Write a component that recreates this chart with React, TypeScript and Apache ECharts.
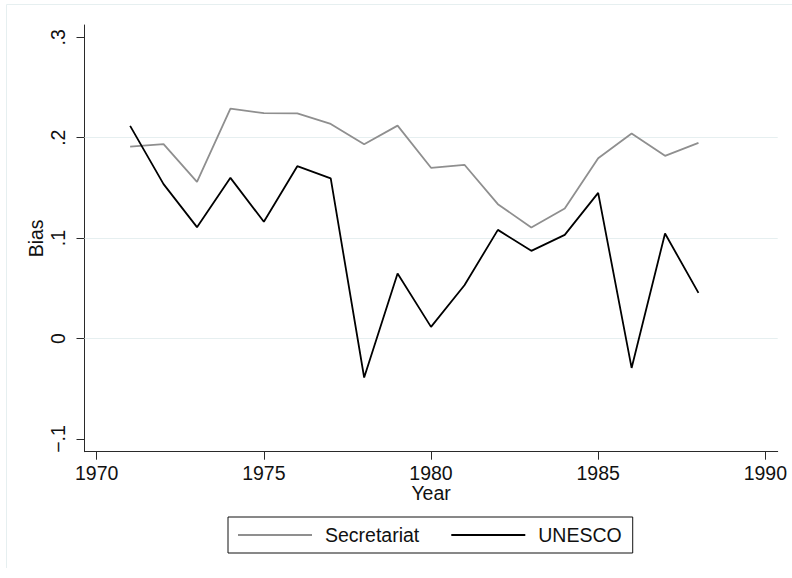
import React, { useEffect, useRef } from "react";
import * as echarts from "echarts";

const years = [1971, 1972, 1973, 1974, 1975, 1976, 1977, 1978, 1979, 1980, 1981, 1982, 1983, 1984, 1985, 1986, 1987, 1988];
const secretariat = [0.191, 0.1935, 0.156, 0.229, 0.2244, 0.2241, 0.2137, 0.1935, 0.212, 0.170, 0.173, 0.1338, 0.1105, 0.1295, 0.1796, 0.2042, 0.1819, 0.1948];
const unesco = [0.2118, 0.1537, 0.1109, 0.160, 0.1162, 0.1716, 0.1594, -0.0388, 0.0647, 0.0116, 0.053, 0.1082, 0.0873, 0.1032, 0.145, -0.0293, 0.1046, 0.0454];
const xTicks = [1970, 1975, 1980, 1985, 1990];
const yTicks = [-0.1, 0, 0.1, 0.2, 0.3];
const yGrid = [0, 0.1, 0.2];

const FONT = "Liberation Sans, Arial, sans-serif";

function fmtY(v: number): string {
  if (Math.abs(v) < 1e-9) return "0";
  const s = Math.abs(v).toFixed(1).replace(/^0/, "");
  return (v < 0 ? "\u2212" : "") + s;
}

export default function App() {
  const ref = useRef<HTMLDivElement>(null);
  useEffect(() => {
    if (!ref.current) return;
    const chart = echarts.init(ref.current, undefined, { renderer: "svg" });
    const axisColor = "#2a2a2a";
    chart.setOption({
      animation: false,
      backgroundColor: "#ffffff",
      textStyle: { fontFamily: FONT },
      graphic: [
        {
          type: "polyline",
          shape: { points: [[6.5, 568], [6.5, 4.5], [792, 4.5]] },
          style: { fill: "none", stroke: "#e6eff0", lineWidth: 1 },
          silent: true,
        },
      ],
      grid: { left: 84.5, right: 14.3, top: 25, bottom: 126.3, containLabel: false },
      xAxis: {
        type: "value",
        min: 1969.635,
        max: 1990.37,
        name: "Year",
        nameLocation: "middle",
        nameGap: 31,
        nameMoveOverlap: false,
        nameTextStyle: { fontSize: 19.5, color: "#111", fontFamily: FONT },
        axisLine: { show: true, onZero: false, lineStyle: { color: axisColor, width: 1 } },
        axisTick: { show: true, length: 8, customValues: xTicks, lineStyle: { color: axisColor } },
        axisLabel: {
          customValues: xTicks,
          margin: 11,
          fontSize: 19.5,
          color: "#111",
          fontFamily: FONT,
          formatter: (v: number) => String(Math.round(v)),
        },
        splitLine: { show: false },
      },
      yAxis: {
        type: "value",
        min: -0.1127,
        max: 0.3122,
        name: "Bias",
        nameLocation: "middle",
        nameGap: 39,
        nameMoveOverlap: false,
        nameTextStyle: { fontSize: 19.5, color: "#111", fontFamily: FONT },
        axisLine: { show: true, onZero: false, lineStyle: { color: axisColor, width: 1 } },
        axisTick: { show: true, length: 8, customValues: yTicks, lineStyle: { color: axisColor } },
        axisLabel: {
          customValues: yTicks,
          rotate: 90,
          margin: 17,
          fontSize: 19.5,
          color: "#111",
          fontFamily: FONT,
          formatter: (v: number) => fmtY(v),
        },
        splitLine: { show: false },
      },
      legend: {
        left: 228,
        top: 517,
        orient: "horizontal",
        padding: [8, 11, 8, 9],
        itemGap: 31,
        itemWidth: 74,
        itemHeight: 14,
        borderColor: "#111",
        borderWidth: 1,
        itemStyle: { color: "transparent", borderWidth: 0, opacity: 0 },
        textStyle: { fontSize: 19.5, color: "#111", fontFamily: FONT, padding: [0, 0, 0, 8] },
        data: ["Secretariat", "UNESCO"],
      },
      series: [
        {
          name: "Secretariat",
          type: "line",
          data: years.map((y, i) => [y, secretariat[i]]),
          symbol: "none",
          lineStyle: { color: "#8f8f8f", width: 1.8 },
          itemStyle: { color: "#8f8f8f" },
          z: 3,
          markLine: {
            silent: true,
            symbol: "none",
            label: { show: false },
            lineStyle: { color: "#e6eff0", width: 1.2, type: "solid" },
            data: yGrid.map((v) => ({ yAxis: v })),
            z: 1,
          },
        },
        {
          name: "UNESCO",
          type: "line",
          data: years.map((y, i) => [y, unesco[i]]),
          symbol: "none",
          lineStyle: { color: "#000000", width: 1.8 },
          itemStyle: { color: "#000000" },
          z: 4,
        },
      ],
    });
    return () => chart.dispose();
  }, []);
  return (
    <div
      ref={ref}
      style={{ position: "absolute", left: 0, top: 0, width: 792, height: 578 }}
    />
  );
}
